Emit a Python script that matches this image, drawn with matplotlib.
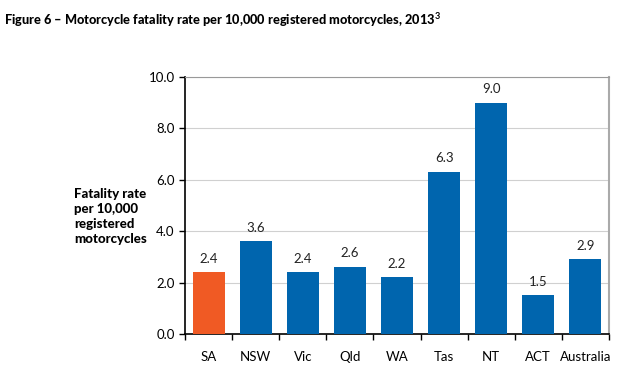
import matplotlib
matplotlib.use("Agg")
from matplotlib import pyplot as plt
import numpy as np

plt.rcParams['font.family'] = ['Lato', 'DejaVu Sans']
plt.rcParams['mathtext.fontset'] = 'custom'
plt.rcParams['mathtext.rm'] = 'Lato'
plt.rcParams['mathtext.bf'] = 'Lato:bold'

## Data
regions = ["SA", "NSW", "Vic", "Qld", "WA", "Tas", "NT", "ACT", "Australia"]
rates = [2.4, 3.6, 2.4, 2.6, 2.2, 6.3, 9.0, 1.5, 2.9]
blue = "#0065AE"
orange = "#F05A24"
colors = [orange] + [blue] * (len(regions) - 1)

fig = plt.figure(figsize=(6.22, 3.73), dpi=100)
ax = fig.add_axes([0.2974, 0.1046, 0.6816, 0.689])

x = np.arange(len(regions))
ax.bar(x, rates, width=0.68, color=colors, zorder=3)
for xi, v in zip(x, rates):
    ax.text(xi, v + 0.3, f"{v:.1f}", ha="center", va="bottom", fontsize=9.5, color="#222222")

ax.set_xlim(-0.5, len(regions) - 0.5)
ax.set_ylim(0, 10)
ax.set_yticks(np.arange(0, 10.1, 2))
ax.set_yticklabels([f"{t:.1f}" for t in np.arange(0, 10.1, 2)], fontsize=9.5)
ax.yaxis.grid(True, color="#D0D0D0", linewidth=0.8, zorder=0)

# category ticks between bars
ax.set_xticks(np.arange(-0.5, len(regions), 1))
ax.set_xticklabels([])
ax.set_xticks(x, minor=True)
ax.set_xticklabels(regions, minor=True, fontsize=9.5)
ax.tick_params(axis="x", which="minor", length=0, pad=12)
ax.tick_params(axis="x", which="major", length=4, width=1, direction="out")
ax.tick_params(axis="y", length=4, width=1, direction="out")

ax.spines["top"].set_color("#999999")
ax.spines["right"].set_color("#AAAAAA")
ax.spines["right"].set_linewidth(1.5)
ax.spines["left"].set_color("black")
ax.spines["bottom"].set_color("black")
ax.spines["left"].set_linewidth(1.2)
ax.spines["bottom"].set_linewidth(1.2)

fig.text(0.119, 0.42, "Fatality rate\nper 10,000\nregistered\nmotorcycles", fontsize=9.5,
         fontweight="black", ha="left", va="center", linespacing=1.3)
fig.text(0.006, 0.945, "Figure 6 \u2013 Motorcycle fatality rate per 10,000 registered motorcycles, 2013$^{\\mathbf{3}}$",
         fontsize=9.2, fontweight="black", ha="left", va="center")

fig.savefig("out.png", dpi=100)
